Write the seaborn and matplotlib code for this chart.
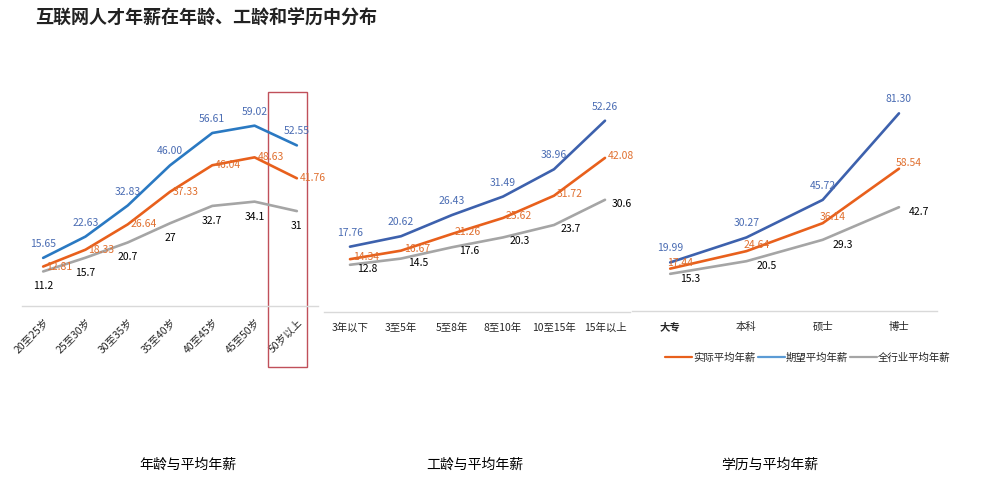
import numpy as np
import pandas as pd
import matplotlib
matplotlib.use('Agg')
import matplotlib.pyplot as plt
import seaborn as sns
from matplotlib.patches import Rectangle
from matplotlib.lines import Line2D

# Data
age_cats = ['20至25岁', '25至30岁', '30至35岁', '35至40岁', '40至45岁', '45至50岁', '50岁以上']
age_expect = [15.65, 22.63, 32.83, 46.00, 56.61, 59.02, 52.55]
age_actual = [12.81, 18.33, 26.64, 37.33, 46.04, 48.63, 41.76]
age_industry = [11.2, 15.7, 20.7, 27, 32.7, 34.1, 31]

work_cats = ['3年以下', '3至5年', '5至8年', '8至10年', '10至15年', '15年以上']
work_expect = [17.76, 20.62, 26.43, 31.49, 38.96, 52.26]
work_actual = [14.34, 16.67, 21.26, 25.62, 31.72, 42.08]
work_industry = [12.8, 14.5, 17.6, 20.3, 23.7, 30.6]

edu_cats = ['大专', '本科', '硕士', '博士']
edu_expect = [19.99, 30.27, 45.72, 81.30]
edu_actual = [17.44, 24.64, 36.14, 58.54]
edu_industry = [15.3, 20.5, 29.3, 42.7]

series_names = ['实际平均年薪', '期望平均年薪', '全行业平均年薪']

sns.set_theme(style='white')
plt.rcParams['font.family'] = ['Noto Sans CJK SC', 'DejaVu Sans']

ORANGE = '#e8601c'
GRAY = '#a5a5a5'
LBL_BLUE = '#4a6cb3'
LBL_ORANGE = '#e07030'

fig = plt.figure(figsize=(9.83, 4.86), dpi=100)


def draw_panel(rect, cats, actual, expect, industry, ylim, blue, offsets, rot=0, bold_first=False):
    ax = fig.add_axes(rect)
    df = pd.DataFrame({
        'x': list(range(len(cats))) * 3,
        'v': actual + expect + industry,
        's': [series_names[0]] * len(cats) + [series_names[1]] * len(cats) + [series_names[2]] * len(cats),
    })
    # gray first so it stays behind
    for name, col in [(series_names[2], GRAY), (series_names[0], ORANGE), (series_names[1], blue)]:
        sns.lineplot(data=df[df['s'] == name], x='x', y='v', color=col, lw=1.9, ax=ax, legend=False)
    lbl_cols = [LBL_ORANGE, LBL_BLUE, 'black']
    for vals, fmt, col, off in zip([actual, expect, industry],
                                   ['{:.2f}', '{:.2f}', '{:g}'], lbl_cols, offsets):
        for i, v in enumerate(vals):
            ax.annotate(fmt.format(v), (i, v), xytext=off, textcoords='offset pixels',
                        ha='center', va='center', fontsize=7.5, color=col)
    ax.set_xlim(-0.5, len(cats) - 0.5)
    ax.set_ylim(*ylim)
    ax.set_xticks(range(len(cats)))
    if rot:
        ax.set_xticklabels(cats, rotation=rot, ha='right', rotation_mode='anchor', fontsize=7.5)
    else:
        ax.set_xticklabels(cats, fontsize=7.5)
    if bold_first:
        ax.get_xticklabels()[0].set_fontweight('bold')
    ax.tick_params(axis='x', length=0, pad=8)
    ax.set_yticks([])
    ax.set_xlabel('')
    ax.set_ylabel('')
    for sp in ['top', 'left', 'right']:
        ax.spines[sp].set_visible(False)
    ax.spines['bottom'].set_color('#d9d9d9')
    ax.spines['bottom'].set_linewidth(1)
    ax.set_facecolor('none')
    return ax


ax1 = draw_panel([0.0224, 0.3712, 0.3011, 0.4642], age_cats, age_actual, age_expect, age_industry,
                 (0, 74), '#2a79c2', [(16, 0), (0, 14), (0, -15)], rot=45)
ax2 = draw_panel([0.3301, 0.359, 0.3113, 0.4763], work_cats, work_actual, work_expect, work_industry,
                 (0, 63.4), '#3d61ad', [(16, 2), (0, 14), (17, -4)])
ax3 = draw_panel([0.643, 0.360, 0.3103, 0.4753], edu_cats, edu_actual, edu_expect, edu_industry,
                 (0, 95), '#3d61ad', [(10, 6), (0, 14), (20, -5)], bold_first=True)

# highlight box around last age group
ax1.add_patch(Rectangle((5.32, -20), 0.93, 90, fill=False, edgecolor='#c0505a', lw=1, clip_on=False))

# legend
handles = [Line2D([], [], color=ORANGE, lw=1.6),
           Line2D([], [], color='#5b9bd5', lw=1.6),
           Line2D([], [], color=GRAY, lw=1.6)]
fig.legend(handles, series_names, loc='center', bbox_to_anchor=(808 / 983, 1 - 358 / 486), ncol=3,
           frameon=False, fontsize=7.5, handlelength=2.6, handletextpad=0.1, columnspacing=0.2)

fig.text(35 / 983, 1 - 18 / 486, '互联网人才年薪在年龄、工龄和学历中分布', fontsize=13, fontweight='bold',
         va='center', ha='left', color='#222222')
for xc, t in [(188, '年龄与平均年薪'), (475, '工龄与平均年薪'), (770, '学历与平均年薪')]:
    fig.text(xc / 983, 1 - 465 / 486, t, fontsize=10, ha='center', va='center', color='black')

fig.savefig('out.png', dpi=100, facecolor='white')
